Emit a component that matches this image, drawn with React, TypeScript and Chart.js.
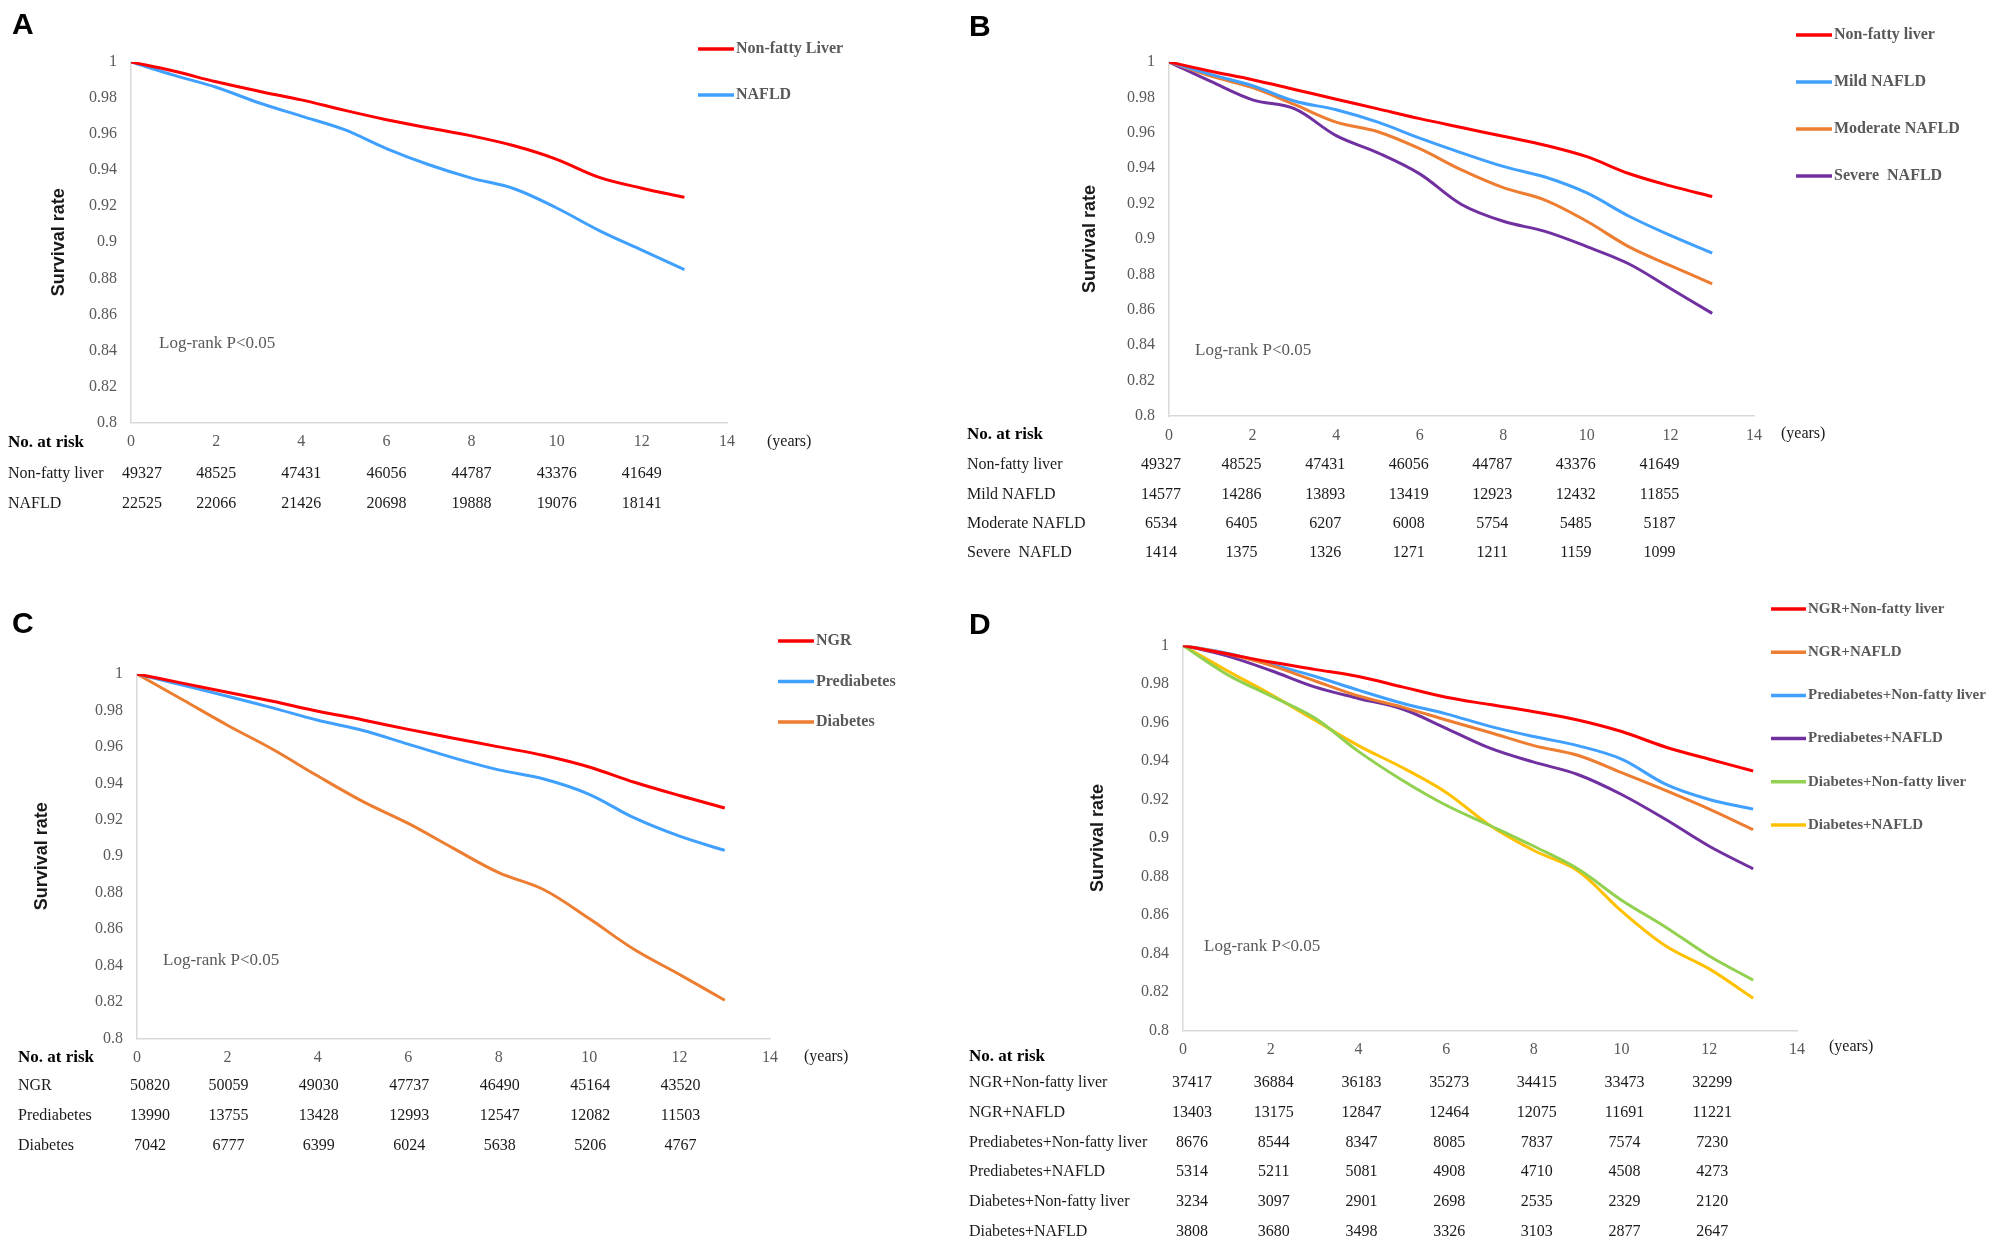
import React, { useEffect, useRef } from 'react';
import { Chart, registerables } from 'chart.js';

Chart.register(...registerables);
Chart.defaults.font.family = '"Liberation Serif", "Times New Roman", serif';

// ---------- shared axes ----------
const years = [0, 1, 2, 3, 4, 5, 6, 7, 8, 9, 10, 11, 12, 13];
const xTickValues = [0, 2, 4, 6, 8, 10, 12, 14];
const xTickLabels = ['0', '2', '4', '6', '8', '10', '12', '14'];
const yTickValues = [0.8, 0.82, 0.84, 0.86, 0.88, 0.9, 0.92, 0.94, 0.96, 0.98, 1];
const yTickLabels = ['0.8', '0.82', '0.84', '0.86', '0.88', '0.9', '0.92', '0.94', '0.96', '0.98', '1'];
const riskYears = [0, 2, 4, 6, 8, 10, 12];

// ---------- panel A ----------
const aNonFatty = [1, 0.995, 0.989, 0.9838, 0.979, 0.9733, 0.968, 0.9634, 0.959, 0.9535, 0.946, 0.936, 0.93, 0.925];
const aNafld = [1, 0.9927, 0.986, 0.9774, 0.97, 0.9626, 0.952, 0.943, 0.9356, 0.9297, 0.919, 0.9065, 0.8956, 0.8848];
const aRiskNonFatty = [49327, 48525, 47431, 46056, 44787, 43376, 41649];
const aRiskNafld = [22525, 22066, 21426, 20698, 19888, 19076, 18141];

// ---------- panel B ----------
const bNonFatty = [1, 0.9948, 0.99, 0.9845, 0.979, 0.9735, 0.968, 0.963, 0.958, 0.953, 0.9465, 0.937, 0.93, 0.924];
const bMild = [1, 0.993, 0.9866, 0.978, 0.973, 0.966, 0.957, 0.9487, 0.941, 0.935, 0.926, 0.913, 0.902, 0.892];
const bModerate = [1, 0.992, 0.9855, 0.976, 0.966, 0.9606, 0.951, 0.939, 0.929, 0.922, 0.91, 0.8957, 0.885, 0.8747];
const bSevere = [1, 0.989, 0.9786, 0.9736, 0.9584, 0.9487, 0.9368, 0.9195, 0.91, 0.9043, 0.8957, 0.886, 0.872, 0.858];
const bRiskNonFatty = [49327, 48525, 47431, 46056, 44787, 43376, 41649];
const bRiskMild = [14577, 14286, 13893, 13419, 12923, 12432, 11855];
const bRiskModerate = [6534, 6405, 6207, 6008, 5754, 5485, 5187];
const bRiskSevere = [1414, 1375, 1326, 1271, 1211, 1159, 1099];

// ---------- panel C ----------
const cNgr = [1, 0.995, 0.99, 0.985, 0.9796, 0.9748, 0.9696, 0.9648, 0.96, 0.9553, 0.949, 0.9406, 0.9333, 0.9265];
const cPre = [1, 0.9939, 0.9878, 0.9814, 0.9746, 0.969, 0.9615, 0.954, 0.9474, 0.9424, 0.934, 0.921, 0.911, 0.9032];
const cDiab = [1, 0.986, 0.9719, 0.9587, 0.944, 0.93, 0.918, 0.9043, 0.891, 0.8816, 0.8658, 0.8488, 0.8351, 0.821];
const cRiskNgr = [50820, 50059, 49030, 47737, 46490, 45164, 43520];
const cRiskPre = [13990, 13755, 13428, 12993, 12547, 12082, 11503];
const cRiskDiab = [7042, 6777, 6399, 6024, 5638, 5206, 4767];

// ---------- panel D ----------
const dNgrNonFatty = [1, 0.9957, 0.9914, 0.9876, 0.9839, 0.9785, 0.9731, 0.9693, 0.9656, 0.9613, 0.9553, 0.9473, 0.9409, 0.9348];
const dNgrNafld = [1, 0.9957, 0.9897, 0.9817, 0.9738, 0.968, 0.9613, 0.9548, 0.948, 0.943, 0.934, 0.9247, 0.915, 0.9043];
const dPreNonFatty = [1, 0.996, 0.9903, 0.984, 0.9768, 0.97, 0.9645, 0.958, 0.9527, 0.948, 0.941, 0.928, 0.92, 0.915];
const dPreNafld = [1, 0.9946, 0.987, 0.9785, 0.9725, 0.967, 0.957, 0.9467, 0.9394, 0.933, 0.9226, 0.9097, 0.8957, 0.884];
const dDiabNonFatty = [1, 0.985, 0.9738, 0.9624, 0.945, 0.93, 0.917, 0.9065, 0.8957, 0.884, 0.8677, 0.8538, 0.8387, 0.8262];
const dDiabNafld = [1, 0.987, 0.9746, 0.9613, 0.948, 0.9366, 0.9237, 0.9065, 0.8935, 0.883, 0.862, 0.844, 0.832, 0.8168];
const dRiskNgrNonFatty = [37417, 36884, 36183, 35273, 34415, 33473, 32299];
const dRiskNgrNafld = [13403, 13175, 12847, 12464, 12075, 11691, 11221];
const dRiskPreNonFatty = [8676, 8544, 8347, 8085, 7837, 7574, 7230];
const dRiskPreNafld = [5314, 5211, 5081, 4908, 4710, 4508, 4273];
const dRiskDiabNonFatty = [3234, 3097, 2901, 2698, 2535, 2329, 2120];
const dRiskDiabNafld = [3808, 3680, 3498, 3326, 3103, 2877, 2647];

const RED = '#ff0000';
const BLUE = '#3fa0ff';
const ORANGE = '#ed7d31';
const PURPLE = '#7030a0';
const GREEN = '#92d050';
const YELLOW = '#ffc000';

type Series = { legend: string; row: string; color: string; values: number[]; risk: number[] };
type Panel = {
  letter: string; letterX: number; letterY: number;
  area: { l: number; t: number; r: number; b: number };
  titleX: number;
  legendLineX: number; legendTextX: number; legendY0: number; legendGap: number; legendFont: number;
  logX: number; logY: number;
  yearsX: number; yearsY: number;
  riskX: number; riskY: number; rowY0: number; rowGap: number; tableDx: number; firstDx: number;
  series: Series[];
};

const panels: Panel[] = [
  {
    letter: 'A', letterX: 12, letterY: 34,
    area: { l: 131, t: 62, r: 727, b: 422.5 }, titleX: 59,
    legendLineX: 698, legendTextX: 736, legendY0: 49, legendGap: 46, legendFont: 16,
    logX: 159, logY: 343.5, yearsX: 767, yearsY: 442,
    riskX: 8, riskY: 443, rowY0: 474, rowGap: 29.5, tableDx: 0, firstDx: 11,
    series: [
      { legend: 'Non-fatty Liver', row: 'Non-fatty liver', color: RED, values: aNonFatty, risk: aRiskNonFatty },
      { legend: 'NAFLD', row: 'NAFLD', color: BLUE, values: aNafld, risk: aRiskNafld },
    ],
  },
  {
    letter: 'B', letterX: 969, letterY: 36,
    area: { l: 1169, t: 62, r: 1754, b: 416 }, titleX: 1090,
    legendLineX: 1796, legendTextX: 1834, legendY0: 35, legendGap: 47, legendFont: 16,
    logX: 1195, logY: 351, yearsX: 1781, yearsY: 434,
    riskX: 967, riskY: 435, rowY0: 465, rowGap: 29.3, tableDx: -11, firstDx: 3,
    series: [
      { legend: 'Non-fatty liver', row: 'Non-fatty liver', color: RED, values: bNonFatty, risk: bRiskNonFatty },
      { legend: 'Mild NAFLD', row: 'Mild NAFLD', color: BLUE, values: bMild, risk: bRiskMild },
      { legend: 'Moderate NAFLD', row: 'Moderate NAFLD', color: ORANGE, values: bModerate, risk: bRiskModerate },
      { legend: 'Severe  NAFLD', row: 'Severe  NAFLD', color: PURPLE, values: bSevere, risk: bRiskSevere },
    ],
  },
  {
    letter: 'C', letterX: 12, letterY: 633,
    area: { l: 137, t: 674, r: 770, b: 1038.5 }, titleX: 42,
    legendLineX: 778, legendTextX: 816, legendY0: 641, legendGap: 40.5, legendFont: 16,
    logX: 163, logY: 961, yearsX: 804, yearsY: 1056.5,
    riskX: 18, riskY: 1058, rowY0: 1086, rowGap: 30, tableDx: 1, firstDx: 12,
    series: [
      { legend: 'NGR', row: 'NGR', color: RED, values: cNgr, risk: cRiskNgr },
      { legend: 'Prediabetes', row: 'Prediabetes', color: BLUE, values: cPre, risk: cRiskPre },
      { legend: 'Diabetes', row: 'Diabetes', color: ORANGE, values: cDiab, risk: cRiskDiab },
    ],
  },
  {
    letter: 'D', letterX: 969, letterY: 634,
    area: { l: 1183, t: 645.5, r: 1797, b: 1030.5 }, titleX: 1098,
    legendLineX: 1771, legendTextX: 1808, legendY0: 609, legendGap: 43.2, legendFont: 15,
    logX: 1204, logY: 947, yearsX: 1829, yearsY: 1047,
    riskX: 969, riskY: 1057, rowY0: 1083, rowGap: 29.7, tableDx: 3, firstDx: 6,
    series: [
      { legend: 'NGR+Non-fatty liver', row: 'NGR+Non-fatty liver', color: RED, values: dNgrNonFatty, risk: dRiskNgrNonFatty },
      { legend: 'NGR+NAFLD', row: 'NGR+NAFLD', color: ORANGE, values: dNgrNafld, risk: dRiskNgrNafld },
      { legend: 'Prediabetes+Non-fatty liver', row: 'Prediabetes+Non-fatty liver', color: BLUE, values: dPreNonFatty, risk: dRiskPreNonFatty },
      { legend: 'Prediabetes+NAFLD', row: 'Prediabetes+NAFLD', color: PURPLE, values: dPreNafld, risk: dRiskPreNafld },
      { legend: 'Diabetes+Non-fatty liver', row: 'Diabetes+Non-fatty liver', color: GREEN, values: dDiabNonFatty, risk: dRiskDiabNonFatty },
      { legend: 'Diabetes+NAFLD', row: 'Diabetes+NAFLD', color: YELLOW, values: dDiabNafld, risk: dRiskDiabNafld },
    ],
  },
];

const W = 2008;
const H = 1249;
const SERIF = '"Liberation Serif", "Times New Roman", serif';
const SANS = '"Liberation Sans", Arial, sans-serif';

function PanelChart({ panel }: { panel: Panel }) {
  const ref = useRef<HTMLCanvasElement>(null);
  useEffect(() => {
    const canvas = ref.current;
    if (!canvas) return;
    const titleSize = 18;
    const padLeft = panel.titleX - (titleSize * 1.2) / 2;
    const yW = panel.area.l - padLeft;
    const xH = 40;

    const deco = {
      id: 'deco' + panel.letter,
      afterDraw(chart: any) {
        const ctx = chart.ctx as CanvasRenderingContext2D;
        const xs = chart.scales.x;
        ctx.save();
        // panel letter
        ctx.font = `bold 30px ${SANS}`;
        ctx.fillStyle = '#000';
        ctx.textBaseline = 'alphabetic';
        ctx.textAlign = 'left';
        ctx.fillText(panel.letter, panel.letterX, panel.letterY);

        // legend
        ctx.textBaseline = 'middle';
        panel.series.forEach((s, i) => {
          const y = panel.legendY0 + i * panel.legendGap;
          ctx.strokeStyle = s.color;
          ctx.lineWidth = 3.5;
          ctx.beginPath();
          ctx.moveTo(panel.legendLineX, y);
          ctx.lineTo(panel.legendTextX - 2, y);
          ctx.stroke();
          ctx.font = `bold ${panel.legendFont}px ${SERIF}`;
          ctx.fillStyle = '#595959';
          ctx.fillText(s.legend, panel.legendTextX, y);
        });

        // log-rank
        ctx.font = `17px ${SERIF}`;
        ctx.fillStyle = '#595959';
        ctx.fillText('Log-rank P<0.05', panel.logX, panel.logY);

        // (years)
        ctx.font = `16px ${SERIF}`;
        ctx.fillStyle = '#1a1a1a';
        ctx.fillText('(years)', panel.yearsX, panel.yearsY);

        // No. at risk
        ctx.font = `bold 17px ${SERIF}`;
        ctx.fillStyle = '#000';
        ctx.fillText('No. at risk', panel.riskX, panel.riskY);

        // table rows
        ctx.font = `16px ${SERIF}`;
        ctx.fillStyle = '#1a1a1a';
        panel.series.forEach((s, i) => {
          const y = panel.rowY0 + i * panel.rowGap;
          ctx.textAlign = 'left';
          ctx.fillText(s.row, panel.riskX, y);
          ctx.textAlign = 'center';
          riskYears.forEach((yr, j) => {
            const px = xs.getPixelForValue(yr) + panel.tableDx + (j === 0 ? panel.firstDx : 0);
            ctx.fillText(String(s.risk[j]), px, y);
          });
        });
        ctx.restore();
      },
    };

    const chart = new Chart(canvas, {
      type: 'line',
      data: {
        datasets: panel.series.map((s) => ({
          label: s.legend,
          data: years.map((x, i) => ({ x, y: s.values[i] })),
          borderColor: s.color,
          backgroundColor: s.color,
          borderWidth: 3,
          pointRadius: 0,
          tension: 0.35,
          fill: false,
        })),
      },
      options: {
        responsive: false,
        animation: false,
        devicePixelRatio: 1,
        events: [],
        layout: {
          padding: {
            left: padLeft,
            top: panel.area.t,
            right: W - panel.area.r,
            bottom: H - panel.area.b - xH,
          },
        },
        plugins: { legend: { display: false }, tooltip: { enabled: false } },
        scales: {
          x: {
            type: 'linear',
            min: 0,
            max: 14,
            grid: { display: false, drawTicks: false },
            border: { display: true, color: '#d9d9d9', width: 1.5 },
            ticks: {
              color: '#595959',
              font: { size: 16, family: SERIF },
              padding: 10,
              maxRotation: 0,
              callback: (_v: any, i: number) => xTickLabels[i],
            },
            afterBuildTicks: (s: any) => {
              s.ticks = xTickValues.map((v) => ({ value: v }));
            },
            afterFit: (s: any) => {
              s.height = xH;
            },
          },
          y: {
            type: 'linear',
            min: 0.8,
            max: 1,
            grid: { display: false, drawTicks: false },
            border: { display: true, color: '#d9d9d9', width: 1.5 },
            title: {
              display: true,
              text: 'Survival rate',
              color: '#1a1a1a',
              padding: 0,
              font: { family: SANS, size: titleSize, weight: 'bold' },
            },
            ticks: {
              color: '#595959',
              font: { size: 16, family: SERIF },
              padding: 14,
              callback: (_v: any, i: number) => yTickLabels[i],
            },
            afterBuildTicks: (s: any) => {
              s.ticks = yTickValues.map((v) => ({ value: v }));
            },
            afterFit: (s: any) => {
              s.width = yW;
            },
          },
        },
      } as any,
      plugins: [deco],
    });
    return () => chart.destroy();
  }, [panel]);
  return (
    <canvas
      ref={ref}
      width={W}
      height={H}
      style={{ position: 'absolute', left: 0, top: 0, width: W, height: H, pointerEvents: 'none' }}
    />
  );
}

export default function App() {
  return (
    <div style={{ position: 'absolute', left: 0, top: 0, width: W, height: H, background: '#fff', overflow: 'hidden' }}>
      {panels.map((p) => (
        <PanelChart key={p.letter} panel={p} />
      ))}
    </div>
  );
}
